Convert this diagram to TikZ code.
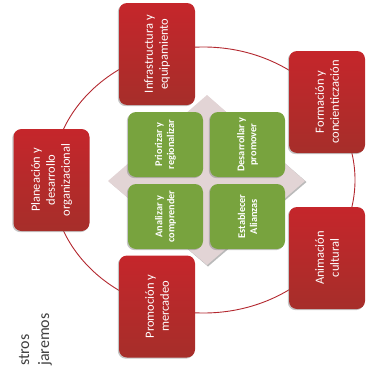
\documentclass[tikz,border=0pt]{standalone}
\usepackage{fontspec}
\setmainfont{Carlito}
\usetikzlibrary{shadows}
\definecolor{redL}{HTML}{C5262B}
\definecolor{redD}{HTML}{A62E2A}
\definecolor{grn}{HTML}{78A33E}
\definecolor{dia}{HTML}{E2D4D5}
\definecolor{ring}{HTML}{B3282F}
\definecolor{txtgray}{HTML}{3F3F3F}
\begin{document}
\begin{tikzpicture}[x=1pt,y=-1pt,
  redbox/.style={rotate=90, rounded corners=8pt, minimum width=102pt, minimum height=76pt,
    top color=redL, bottom color=redD, draw=none, text=white, align=center,
    font=\fontsize{12.5}{15}\selectfont, inner sep=2pt,
    drop shadow={shadow xshift=-1.2pt, shadow yshift=-1.2pt, opacity=0.45}},
  grnbox/.style={rotate=90, rounded corners=8pt, minimum width=65pt, minimum height=75pt,
    fill=grn, draw=none, text=white, align=center,
    font=\bfseries\fontsize{10.3}{12}\selectfont, inner sep=2pt,
    drop shadow={shadow xshift=-1.2pt, shadow yshift=-1.2pt, opacity=0.45}},
  sidetxt/.style={inner sep=0pt, text=txtgray, font=\fontsize{16}{20}\selectfont}]
\useasboundingbox (0,0) rectangle (365,367);
\coordinate (c) at (203.5,180);
\draw[ring, line width=0.9pt] (c) ellipse [x radius=151.5, y radius=133];
\fill[black!45, opacity=0.6] (208,96.5) -- (306.5,182) -- (208,266.5) -- (109.5,182) -- cycle;
\fill[dia] (207,95) -- (305,181) -- (207,265) -- (108,181) -- cycle;
\node[grnbox] (g1) at (165.5,144.5) {Priorizar y\\regionalizar};
\node[grnbox] (g2) at (247.5,144.5) {Desarrollar y\\promover};
\node[grnbox] (g3) at (165.5,216.5) {Analizar y\\comprender};
\node[grnbox] (g4) at (247.5,216.5) {Establecer\\Alianzas};
\node[redbox] (r1) at (157,54) {Infrastructura y\\equipamiento};
\node[redbox] (r2) at (327,102) {Formación y\\concienticzación};
\node[redbox] (r3) at (327,258) {Animación\\cultural};
\node[redbox] (r4) at (157,306.5) {Promoción y\\mercadeo};
\node[redbox] (r5) at (51.5,180) {Planeación y\\desarrollo\\organizacional};
\node[sidetxt, rotate=90, anchor=base west] (t1) at (29,366) {stros};
\node[sidetxt, rotate=90, anchor=base west] (t2) at (49,366) {jaremos};
\end{tikzpicture}
\end{document}
